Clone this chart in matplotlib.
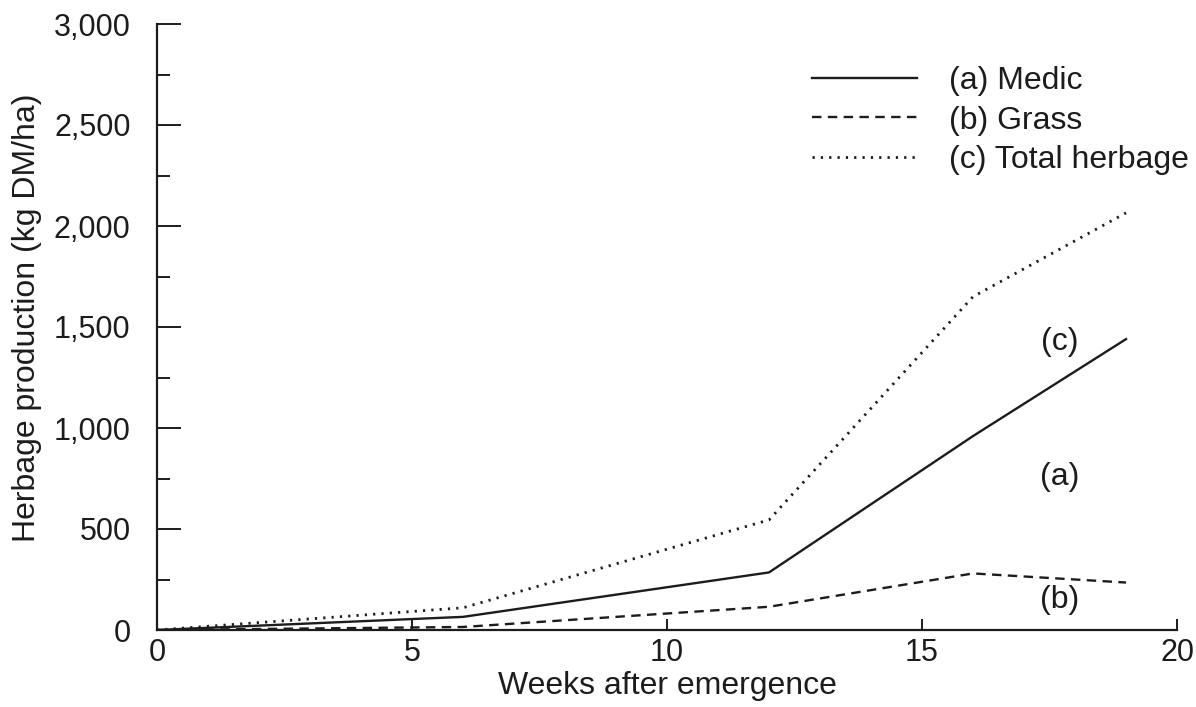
import matplotlib.pyplot as plt
from matplotlib.ticker import MultipleLocator, StrMethodFormatter

# herbage production (kg DM/ha) against weeks after emergence
weeks = [0, 6, 12, 16, 19]
medic = [0, 65, 285, 960, 1440]
grass = [0, 15, 115, 280, 235]
total = [0, 110, 545, 1650, 2065]

series_labels = ["(a) Medic", "(b) Grass", "(c) Total herbage"]
curve_tags = ["(c)", "(a)", "(b)"]
tag_x = [17.7, 17.7, 17.7]
tag_y = [1426, 757, 149]

plt.rcParams['font.family'] = ['Liberation Sans', 'DejaVu Sans']
ink = '#1c1c1c'

fig = plt.figure(figsize=(11.96, 7.07), dpi=100)
ax = fig.add_axes([157 / 1196, 77 / 707, 1020 / 1196, 606 / 707])

ax.plot(weeks, medic, color=ink, lw=1.7, ls='-', label=series_labels[0])
ax.plot(weeks, grass, color=ink, lw=1.7, ls=(0, (4.0, 2.7)), label=series_labels[1])
ax.plot(weeks, total, color=ink, lw=2.0, ls=(0, (0.8, 2.2)), label=series_labels[2])

for tag, tx, ty in zip(curve_tags, tag_x, tag_y):
    ax.text(tx, ty, tag, fontsize=23, color=ink, ha='center', va='center')

ax.set_xlim(0, 20)
ax.set_ylim(0, 3000)
ax.spines['top'].set_visible(False)
ax.spines['right'].set_visible(False)
for side in ('left', 'bottom'):
    ax.spines[side].set_linewidth(1.6)
    ax.spines[side].set_color(ink)

ax.xaxis.set_major_locator(MultipleLocator(5))
ax.yaxis.set_major_locator(MultipleLocator(500))
ax.yaxis.set_minor_locator(MultipleLocator(250))
ax.yaxis.set_major_formatter(StrMethodFormatter('{x:,.0f}'))

ax.tick_params(axis='x', which='major', direction='in', length=8, width=1.4,
               pad=6, labelsize=22, colors=ink)
ax.tick_params(axis='y', which='major', direction='in', length=17, width=1.4,
               pad=19, labelsize=22, colors=ink)
ax.tick_params(axis='y', which='minor', direction='in', length=9, width=1.4, colors=ink)

ax.set_xlabel("Weeks after emergence", fontsize=23, color=ink, labelpad=2)
ax.set_ylabel("Herbage production (kg DM/ha)", fontsize=23, color=ink)
ax.yaxis.set_label_coords(-0.113, 0.515)

ax.legend(loc='upper left', bbox_to_anchor=(812 / 1196, 1 - 66 / 707),
          bbox_transform=fig.transFigure, frameon=False, fontsize=23,
          handlelength=3.3, handletextpad=1.0, labelspacing=0.3,
          borderpad=0, borderaxespad=0, labelcolor=ink)

fig.savefig("out.png", dpi=100)
